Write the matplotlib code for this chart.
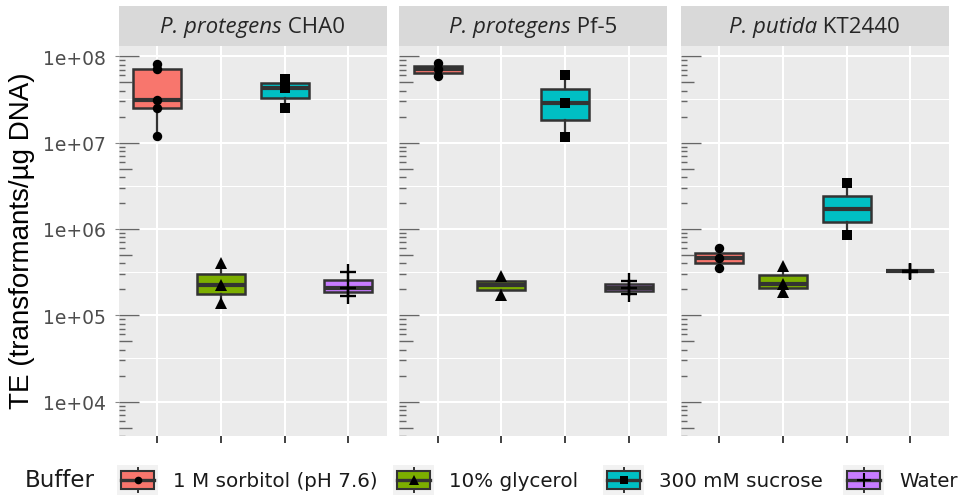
import numpy as np
import matplotlib
matplotlib.use("Agg")
import matplotlib.pyplot as plt
from matplotlib import cbook
from matplotlib.patches import Rectangle, Patch
from matplotlib.lines import Line2D
from matplotlib.legend_handler import HandlerBase
from matplotlib.ticker import FixedLocator, FixedFormatter, NullFormatter

# ---------------- data ----------------
species = ["P. protegens", "P. protegens", "P. putida"]
strain_ids = ["CHA0", "Pf-5", "KT2440"]
buffers = ["1 M sorbitol (pH 7.6)", "10% glycerol", "300 mM sucrose", "Water"]
colors = ["#F8766D", "#7CAE00", "#00BFC4", "#C77CFF"]
markers = ["o", "^", "s", "+"]
ytick_values = [1e4, 1e5, 1e6, 1e7, 1e8]
ytick_labels = ["1e+04", "1e+05", "1e+06", "1e+07", "1e+08"]

cha0_sorbitol = [8.1e7, 7.1e7, 3.1e7, 2.5e7, 1.2e7]
cha0_glycerol = [4.06e5, 2.27e5, 1.39e5]
cha0_sucrose = [5.5e7, 4.3e7, 2.54e7]
cha0_water = [3.16e5, 2.08e5, 1.66e5]

pf5_sorbitol = [8.3e7, 7.06e7, 5.9e7]
pf5_glycerol = [2.84e5, 1.74e5]
pf5_sucrose = [6.0e7, 2.9e7, 1.17e7]
pf5_water = [2.49e5, 2.08e5, 1.75e5]

kt_sorbitol = [6.05e5, 4.63e5, 3.52e5]
kt_glycerol = [3.7e5, 2.31e5, 1.87e5]
kt_sucrose = [3.37e6, 8.6e5]
kt_water = [3.3e5, 3.25e5, 3.2e5]

panel_data = [
    [cha0_sorbitol, cha0_glycerol, cha0_sucrose, cha0_water],
    [pf5_sorbitol, pf5_glycerol, pf5_sucrose, pf5_water],
    [kt_sorbitol, kt_glycerol, kt_sucrose, kt_water],
]

# ---------------- layout ----------------
W, H = 964, 502
fig = plt.figure(figsize=(W / 100, H / 100), dpi=100)
renderer = fig.canvas.get_renderer()

panel_lefts = [118.7, 399.3, 680.7]
panel_w = 268.0
panel_top, panel_bot = 47.0, 437.3
strip_top = 6.7

ylim = (10 ** 3.599, 10 ** 8.119)
msizes = {"o": 6.8, "^": 8.2, "s": 6.6, "+": 11.5}
dark = "#333333"

for p in range(3):
    L = panel_lefts[p]
    ax = fig.add_axes([L / W, 1 - panel_bot / H, panel_w / W, (panel_bot - panel_top) / H])
    ax.set_facecolor("#EBEBEB")
    for s in ax.spines.values():
        s.set_visible(False)
    ax.set_yscale("log")
    ax.set_ylim(*ylim)
    ax.set_xlim(0.4, 4.6)
    ax.set_axisbelow(True)

    ax.yaxis.set_major_locator(FixedLocator(ytick_values))
    minor_vals = [10 ** (k + 0.5) for k in range(3, 9)]
    ax.yaxis.set_minor_locator(FixedLocator(minor_vals))
    ax.yaxis.set_minor_formatter(NullFormatter())
    ax.xaxis.set_major_locator(FixedLocator([1, 2, 3, 4]))
    ax.set_xticklabels([])
    ax.grid(which="major", color="white", lw=1.5)
    ax.grid(which="minor", axis="y", color="white", lw=0.75)
    ax.tick_params(axis="y", which="minor", length=0)
    ax.tick_params(axis="x", which="major", length=5, width=1.3, color=dark)
    if p == 0:
        ax.yaxis.set_major_formatter(FixedFormatter(ytick_labels))
        ax.tick_params(axis="y", which="major", length=3, width=0.8, color="#888888",
                       pad=6, labelsize=13.5, labelcolor="#4D4D4D")
        for t in ax.get_yticklabels():
            t.set_family("DejaVu Sans")
    else:
        ax.set_yticklabels([])
        ax.tick_params(axis="y", which="major", length=0)

    # log ticks annotation (inside, left)
    ytr = ax.get_yaxis_transform()
    for k in range(3, 9):
        for m in range(1, 10):
            v = m * 10 ** k
            if v < ylim[0] or v > ylim[1]:
                continue
            ln = 0.075 if m == 1 else (0.05 if m == 5 else 0.025)
            ax.plot([0, ln], [v, v], transform=ytr, color="#666666", lw=1.0,
                    solid_capstyle="butt", zorder=1.5)

    # boxplots + points
    for i, vals in enumerate(panel_data[p]):
        pos = i + 1
        st = cbook.boxplot_stats(np.log10(vals), whis=1.5)[0]
        for key in ("med", "q1", "q3", "whislo", "whishi", "mean"):
            st[key] = 10 ** st[key]
        st["fliers"] = 10 ** np.asarray(st["fliers"])
        ax.bxp([st], positions=[pos], widths=0.75, patch_artist=True,
               showfliers=False, showcaps=False, manage_ticks=False,
               boxprops=dict(facecolor=colors[i], edgecolor=dark, linewidth=1.8),
               medianprops=dict(color=dark, linewidth=3.0, solid_capstyle="butt"),
               whiskerprops=dict(color=dark, linewidth=1.6), zorder=2)
        mk = markers[i]
        ax.plot([pos] * len(vals), vals, linestyle="none", marker=mk, color="black",
                ms=msizes[mk], mew=(1.7 if mk == "+" else 0), zorder=3)

    # strip
    sax = fig.add_axes([L / W, 1 - panel_top / H, panel_w / W, (panel_top - strip_top) / H])
    sax.set_facecolor("#D9D9D9")
    for s in sax.spines.values():
        s.set_visible(False)
    sax.set_xticks([])
    sax.set_yticks([])
    t1 = sax.text(0, 0.48, species[p], ha="left", va="center", family="Open Sans",
                  style="italic", size=16, color="#262626", transform=sax.transAxes)
    t2 = sax.text(0, 0.48, " " + strain_ids[p], ha="left", va="center", family="Open Sans",
                  size=16, color="#262626", transform=sax.transAxes)
    w1 = t1.get_window_extent(renderer).width
    w2 = t2.get_window_extent(renderer).width
    x_start = (L + panel_w / 2) - (w1 + w2) / 2
    t1.set_position(((x_start - L) / panel_w, 0.48))
    t2.set_position(((x_start + w1 - L) / panel_w, 0.48))

# y label
fig.text(22 / W, 1 - 241 / H, "TE (transformants/µg DNA)", rotation=90, ha="center", va="center",
         family="Liberation Sans", size=20, color="black")


# ---------------- legend ----------------
class BoxKey(HandlerBase):
    def __init__(self, color, marker, ms, mew):
        super().__init__()
        self.color, self.marker, self.ms, self.mew = color, marker, ms, mew

    def create_artists(self, legend, orig_handle, xdescent, ydescent, width, height, fontsize, trans):
        x0, y0 = -xdescent, -ydescent
        bg = Rectangle((x0, y0), width, height, facecolor="#F2F2F2", edgecolor="none", transform=trans)
        bx, bw = x0 + 0.09 * width, 0.82 * width
        box = Rectangle((bx, y0 + 0.21 * height), bw, 0.58 * height, facecolor=self.color,
                        edgecolor=dark, lw=1.5, transform=trans)
        cx, cy = x0 + width / 2, y0 + height / 2
        med = Line2D([bx, bx + bw], [cy, cy], color=dark, lw=2.4, transform=trans)
        wa = Line2D([cx, cx], [y0 + 0.08 * height, y0 + 0.21 * height], color=dark, lw=1.4, transform=trans)
        wb = Line2D([cx, cx], [y0 + 0.79 * height, y0 + 0.92 * height], color=dark, lw=1.4, transform=trans)
        pt = Line2D([cx], [cy], marker=self.marker, color="black", ms=self.ms, mew=self.mew,
                    linestyle="none", transform=trans)
        return [bg, box, med, wa, wb, pt]


key_ms = {"o": 5.5, "^": 7.0, "s": 5.5, "+": 10}
key_lefts = [117, 393, 603, 843]
lfs = 14.3
fpx = lfs * 100 / 72
for i, b in enumerate(buffers):
    h = Patch(label=b)
    hm = {h: BoxKey(colors[i], markers[i], key_ms[markers[i]], (1.5 if markers[i] == "+" else 0))}
    leg = fig.legend(handles=[h], labels=[b], handler_map=hm, frameon=False,
                     loc="center left", bbox_to_anchor=(key_lefts[i] / W, 1 - 481 / H),
                     borderpad=0, borderaxespad=0, handlelength=41 / fpx, handleheight=38 / fpx,
                     handletextpad=15 / fpx, prop={"family": "DejaVu Sans", "size": lfs})
    for t in leg.get_texts():
        t.set_color("#1A1A1A")

fig.text(25 / W, 1 - 481 / H, "Buffer", ha="left", va="center", family="DejaVu Sans",
         size=16.5, color="#1A1A1A")

fig.savefig("out.png", dpi=100)
